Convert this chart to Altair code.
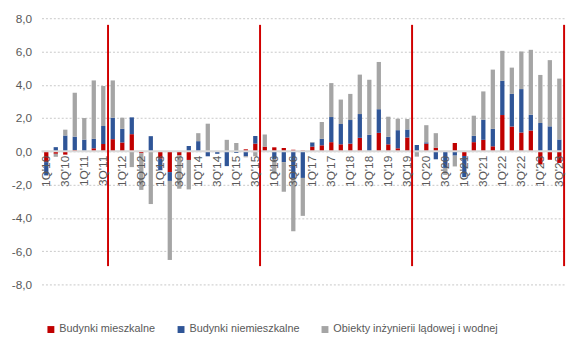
import altair as alt
import pandas as pd

# ---- data -------------------------------------------------------------
quarters = [f"{q}Q'{y:02d}" for y in range(10, 24) for q in range(1, 5)][:55]

mieszkalne = [
    -0.65, -0.15, -0.20, 0.08, 0.03, 0.18, 0.44, 0.73, 0.53, 1.03,
    -0.12, 0.00, -0.44, -1.25, -0.25, -0.52, 0.00, 0.00, 0.00, 0.00,
    0.00, 0.12, 0.46, 0.28, 0.24, 0.20, 0.10, 0.05, 0.28, 0.36,
    0.55, 0.42, 0.46, 0.81, 0.00, 1.11, 0.42, 0.18, 0.83, 0.00,
    0.46, 0.22, 0.00, 0.50, -0.28, 0.55, 0.69, 0.30, 2.18, 1.49,
    1.13, 1.25, -0.79, -0.51, -0.70,
]
niemieszkalne = [
    -0.80, 0.25, 0.95, 0.80, 0.67, 0.57, 1.08, 1.29, 0.82, 1.01,
    0.00, 0.91, -0.70, -0.53, 0.00, 0.32, 0.61, -0.30, -0.15, -0.89,
    -0.10, -0.30, 0.46, 0.00, -0.46, -0.65, -1.64, -1.60, 0.25, 0.39,
    1.51, 1.22, 1.42, 1.43, 0.99, 1.42, 0.45, 1.09, 0.48, 0.38,
    0.08, -0.48, -1.00, -0.26, -1.27, 0.38, 1.21, 1.05, 2.06, 1.96,
    2.61, 0.95, 1.70, 1.50, 0.71,
]
inzynieria = [
    0.00, -0.18, 0.35, 2.64, 1.30, 3.51, 2.40, 2.24, 0.67, -0.95,
    -2.20, -3.17, 0.00, -4.75, -2.00, -1.77, 0.48, 1.66, 0.00, 0.69,
    0.50, -0.06, -0.30, 0.73, -0.90, -1.78, -3.16, -2.28, 0.03, 1.01,
    2.04, 1.47, 1.57, 2.37, 3.31, 2.84, 1.21, 0.69, 0.63, -0.32,
    1.03, 0.87, -0.42, -0.65, 0.00, 1.21, 1.70, 3.56, 1.80, 1.58,
    2.26, 3.90, 2.89, 3.98, 3.66,
]
series_names = [
    "Budynki mieszkalne",
    "Budynki niemieszkalne",
    "Obiekty inżynierii lądowej i wodnej",
]
series_colors = ["#C00000", "#2F5597", "#A5A5A5"]
axis_labels = quarters[::2]
y_ticks = [-8, -6, -4, -2, 0, 2, 4, 6, 8]
election_quarters = ["3Q'11", "3Q'15", "3Q'19", "3Q'23"]
election_top = [7.6, 7.6, 7.6, 7.6]
election_bottom = [-6.9, -6.9, -6.9, -6.9]

rows = []
for i, q in enumerate(quarters):
    for k, vals in enumerate([mieszkalne, niemieszkalne, inzynieria]):
        rows.append({"q": q, "series": series_names[k], "value": vals[i], "ord": k})
df = pd.DataFrame(rows)
df_zero = pd.DataFrame({"y": [0]})
df_el = pd.DataFrame({"q": election_quarters, "top": election_top, "bottom": election_bottom})

FONT = "Liberation Sans"
x_scale = alt.Scale(domain=quarters, paddingInner=0.55, paddingOuter=0.275)
y_scale = alt.Scale(domain=[-8, 8], nice=False)
x_axis = alt.Axis(
    values=axis_labels, labelAngle=-90, offset=-135, domain=False, ticks=False,
    labelPadding=4, labelFontSize=12, labelColor="#595959", labelFont=FONT,
    title=None, zindex=1, grid=False, labelOverlap=False,
)

bars = alt.Chart(df).mark_bar().encode(
    x=alt.X("q:N", scale=x_scale, sort=quarters, axis=x_axis),
    y=alt.Y(
        "value:Q", scale=y_scale, stack="zero",
        axis=alt.Axis(
            values=y_ticks, labelExpr="datum.value + ',0'", grid=True,
            gridDash=[2, 2], gridColor="#C8C8C8", gridWidth=1,
            domain=False, ticks=False, title=None, labelPadding=10,
            labelFontSize=12, labelColor="#595959", labelFont=FONT,
            labelOverlap=False, labelFlush=False, tickCount=9,
        ),
    ),
    color=alt.Color(
        "series:N",
        scale=alt.Scale(domain=series_names, range=series_colors),
        legend=alt.Legend(
            orient="none", legendX=4, legendY=310, direction="horizontal",
            title=None, symbolType="square", symbolSize=49, symbolStrokeWidth=0,
            labelFontSize=11, labelColor="#595959", labelFont=FONT,
            columnPadding=20, labelOffset=3, labelLimit=400,
        ),
    ),
    order=alt.Order("ord:Q"),
)

zero = alt.Chart(df_zero).mark_rule(color="#D9D9D9", strokeWidth=2).encode(
    y=alt.Y("y:Q", scale=y_scale)
)

elections = alt.Chart(df_el).mark_rule(color="#D00000", strokeWidth=2, xOffset=2.65).encode(
    x=alt.X("q:N", scale=x_scale, sort=quarters, axis=x_axis, bandPosition=1),
    y=alt.Y("top:Q", scale=y_scale),
    y2="bottom:Q",
)

chart = (
    alt.layer(bars, zero, elections)
    .properties(
        width=530, height=270,
        autosize=alt.AutoSizeParams(type="none"),
        padding={"left": 34, "top": 8, "right": 6, "bottom": 52},
    )
    .configure_view(stroke=None)
)

chart.save("out.html", embed_options={"renderer": "svg", "actions": False})
